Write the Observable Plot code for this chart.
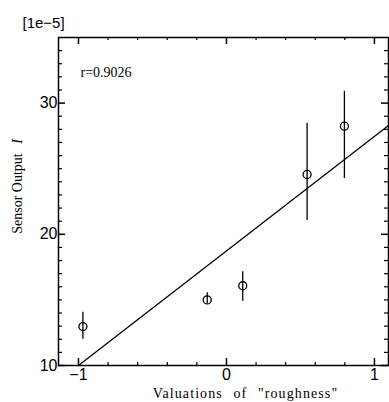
<!DOCTYPE html>
<html><head><meta charset="utf-8">
<script src="https://cdn.jsdelivr.net/npm/d3@7"></script>
<script src="https://cdn.jsdelivr.net/npm/@observablehq/plot@0.6"></script>
<style>body{margin:0;background:#fff}</style>
</head><body><div id="chart"></div>
<script>
// data
const xVals = [-0.97, -0.13, 0.11, 0.545, 0.797];
const yVals = [12.97, 15.0, 16.08, 24.56, 28.24];
const yLow  = [12.0, 14.7, 14.9, 21.05, 24.25];
const yHigh = [14.05, 15.55, 17.15, 28.47, 30.9];
// regression line end points
const fitX = [-1.0, 1.095];
const fitY = [10.0, 28.3];
// ticks
const xMajor = [-1, 0, 1];
const xMinor = [-0.8, -0.6, -0.4, -0.2, 0.2, 0.4, 0.6, 0.8];
const yMajor = [10, 20, 30];
const yMinor = [11,12,13,14,15,16,17,18,19,21,22,23,24,25,26,27,28,29,31,32,33,34];
const xDomain = [-1.135, 1.095];
const yDomain = [10, 35];

const W = 389, H = 402, ML = 58, MR = 1, MT = 37, MB = 37;

const pts = xVals.map((x, i) => ({x, y: yVals[i], lo: yLow[i], hi: yHigh[i]}));
const fit = fitX.map((x, i) => ({x, y: fitY[i]}));

const fmt = d => d < 0 ? "\u2212" + Math.abs(d) : String(d);
const serif = "Liberation Serif, Times New Roman, serif";
const sans = "Liberation Sans, Arial, Helvetica, sans-serif";

const tx = (vals) => vals.map(v => ({v}));
// inward ticks on the four sides of the frame
const ticksX = (vals, len, sw) => [
  Plot.ruleX(tx(vals), {x: "v", y1: () => yDomain[0], y2: () => yDomain[0], insetTop: -len, stroke: "black", strokeWidth: sw}),
  Plot.ruleX(tx(vals), {x: "v", y1: () => yDomain[1], y2: () => yDomain[1], insetBottom: -len, stroke: "black", strokeWidth: sw})
];
const ticksY = (vals, len, sw) => [
  Plot.ruleY(tx(vals), {y: "v", x1: () => xDomain[0], x2: () => xDomain[0], insetRight: -len, stroke: "black", strokeWidth: sw}),
  Plot.ruleY(tx(vals), {y: "v", x1: () => xDomain[1], x2: () => xDomain[1], insetLeft: -len, stroke: "black", strokeWidth: sw})
];

const chart = Plot.plot({
  width: W, height: H,
  marginLeft: ML, marginRight: MR, marginTop: MT, marginBottom: MB,
  style: {fontFamily: sans, fontSize: "16px", color: "#000", background: "#fff"},
  x: {domain: xDomain, axis: null},
  y: {domain: yDomain, axis: null},
  marks: [
    Plot.frame({stroke: "#000", fill: "none", strokeWidth: 1.5}),
    ...ticksX(xMajor, 7, 1.5),
    ...ticksX(xMinor, 3, 1.2),
    ...ticksY(yMajor, 7, 1.5),
    ...ticksY(yMinor, 4, 1.2),
    // tick labels
    Plot.axisX(xMajor, {anchor: "bottom", tickSize: 0, tickPadding: 3, tickFormat: fmt, label: null, fontSize: 16, fontFamily: sans}),
    Plot.axisY(yMajor, {anchor: "left", tickSize: 0, tickPadding: 1, tickFormat: fmt, label: null, fontSize: 16, fontFamily: sans}),
    // regression line
    Plot.line(fit, {x: "x", y: "y", stroke: "#000", strokeWidth: 1.3}),
    // error bars and points
    Plot.ruleX(pts, {x: "x", y1: "lo", y2: "hi", stroke: "#000", strokeWidth: 1.3}),
    Plot.dot(pts, {x: "x", y: "y", r: 4, stroke: "#000", fill: "none", strokeWidth: 1.3}),
    // texts
    Plot.text(["[1e\u22125]"], {frameAnchor: "top-left", textAnchor: "start", dx: -36, dy: -20, fontFamily: sans, fontSize: 15}),
    Plot.text(["r=0.9026"], {frameAnchor: "top-left", textAnchor: "start", dx: 22, dy: 30, fontFamily: serif, fontSize: 14}),
    Plot.text(["Sensor Output"], {frameAnchor: "left", textAnchor: "middle", rotate: -90, dx: -41, dy: -8, fontFamily: serif, fontSize: 14}),
    Plot.text(["I"], {frameAnchor: "left", textAnchor: "middle", rotate: -90, dx: -41, dy: -60, fontFamily: serif, fontSize: 14, fontStyle: "italic"}),
    Plot.text(["Valuations of \"roughness\""], {frameAnchor: "bottom", textAnchor: "middle", dx: 22, dy: 32, fontFamily: serif, fontSize: 14})
  ]
});
d3.select(chart).selectAll("text")
  .filter(function() { return this.textContent.startsWith("Valuations"); })
  .attr("letter-spacing", 1.1).attr("word-spacing", 6);
document.getElementById("chart").appendChild(chart);
</script>
</body></html>
